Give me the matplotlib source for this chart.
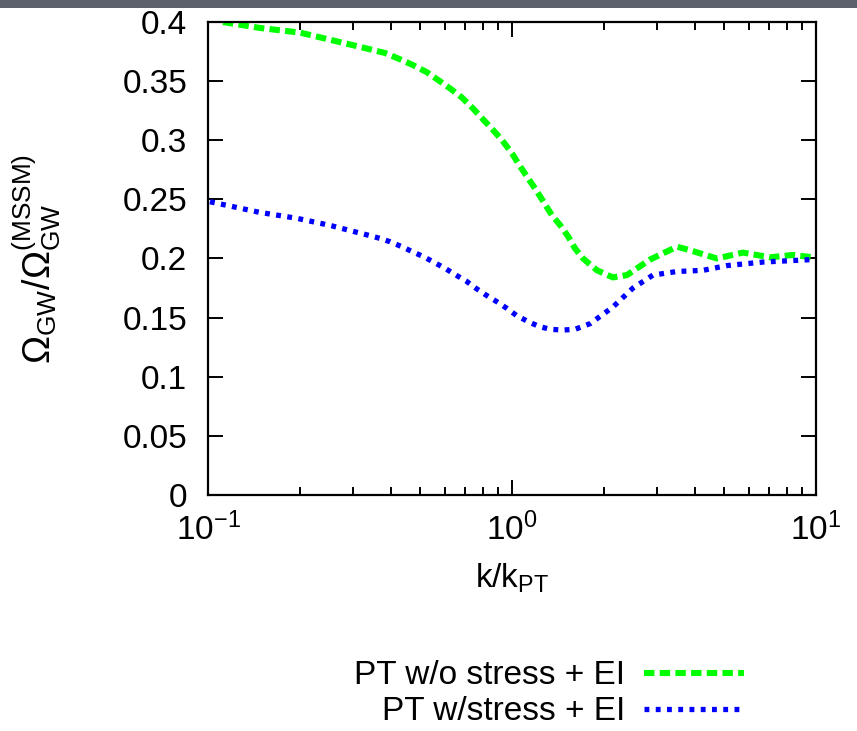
import matplotlib
matplotlib.use("Agg")
import matplotlib.pyplot as plt
from matplotlib.patches import Rectangle
from matplotlib.ticker import LogLocator, FixedLocator, LogFormatterMathtext

plt.rcParams['font.family'] = ['Liberation Sans', 'DejaVu Sans']
plt.rcParams['mathtext.fontset'] = 'custom'
plt.rcParams['mathtext.rm'] = 'Liberation Sans'
plt.rcParams['mathtext.it'] = 'Liberation Sans'
plt.rcParams['mathtext.bf'] = 'Liberation Sans'
plt.rcParams['lines.scale_dashes'] = False

# Spectra relative to the MSSM reference
k_nostress = [0.112, 0.148, 0.201, 0.316, 0.382, 0.428, 0.472, 0.525, 0.571, 0.625,
              0.685, 0.744, 0.803, 0.866, 0.927, 1.000, 1.062, 1.120, 1.190, 1.255,
              1.351, 1.439, 1.532, 1.611, 1.713, 1.904, 2.148, 2.39, 2.84, 3.49,
              3.85, 4.72, 5.75, 7.06, 8.40, 9.77, 10.0]
omega_nostress = [0.400, 0.395, 0.391, 0.379, 0.3738, 0.3685, 0.3636, 0.3575, 0.3510, 0.3439,
                  0.3360, 0.3269, 0.3177, 0.3087, 0.3002, 0.2889, 0.2782, 0.2692, 0.2593, 0.2500,
                  0.2368, 0.2283, 0.2184, 0.2086, 0.200, 0.190, 0.184, 0.186, 0.199, 0.210,
                  0.207, 0.200, 0.205, 0.201, 0.203, 0.201, 0.201]

k_stress = [0.1015, 0.148, 0.196, 0.252, 0.333, 0.368, 0.397, 0.434, 0.470, 0.511,
            0.554, 0.602, 0.654, 0.706, 0.761, 0.821, 0.891, 0.961, 1.036, 1.131,
            1.230, 1.341, 1.469, 1.611, 1.81, 2.148, 2.50, 2.91, 3.49, 4.25,
            5.09, 6.70, 9.55, 10.0]
omega_stress = [0.248, 0.239, 0.234, 0.228, 0.220, 0.2170, 0.2142, 0.2100, 0.2058, 0.2016,
                0.1968, 0.1917, 0.1860, 0.1810, 0.1748, 0.1691, 0.1635, 0.1579, 0.1517, 0.1466,
                0.1424, 0.1401, 0.1395, 0.1401, 0.145, 0.159, 0.175, 0.186, 0.189, 0.190,
                0.194, 0.197, 0.199, 0.200]

label_nostress = 'PT w/o stress + EI'
label_stress = 'PT w/stress + EI'
y_ticks = [0, 0.05, 0.1, 0.15, 0.2, 0.25, 0.3, 0.35, 0.4]
y_ticklabels = ['0', '0.05', '0.1', '0.15', '0.2', '0.25', '0.3', '0.35', '0.4']

W, H = 857, 731
fig = plt.figure(figsize=(W / 100, H / 100), dpi=100)
fig.patches.append(Rectangle((0, 1 - 8 / H), 1, 8 / H, transform=fig.transFigure,
                             facecolor='#5c616b', edgecolor='none', zorder=0))

ax = fig.add_axes([208 / W, 1 - 495 / H, (816 - 208) / W, (495 - 22) / H])

l1, = ax.plot(k_nostress, omega_nostress, color='#00ff00', lw=4.4,
              dashes=(7.5, 3.8), dash_capstyle='butt', label=label_nostress)
l2, = ax.plot(k_stress, omega_stress, color='#0000ff', lw=3.8,
              dashes=(3.5, 4.6), dash_capstyle='butt', label=label_stress)

ax.set_xscale('log')
ax.set_xlim(0.1, 10)
ax.set_ylim(0, 0.4)
ax.yaxis.set_major_locator(FixedLocator(y_ticks))
ax.set_yticklabels(y_ticklabels)
ax.xaxis.set_major_locator(LogLocator(base=10, numticks=10))
ax.xaxis.set_minor_locator(LogLocator(base=10, subs=range(2, 10), numticks=20))
ax.xaxis.set_major_formatter(LogFormatterMathtext())

for s in ax.spines.values():
    s.set_linewidth(1.6)
ax.tick_params(which='both', direction='in', top=True, right=True,
               labelsize=24, width=1.4, color='black')
ax.tick_params(which='major', length=11, pad=15)
ax.tick_params(which='minor', length=6)
ax.tick_params(axis='x', which='major', pad=13)

ax.set_xlabel(r'k/k$_{\mathrm{PT}}$', fontsize=24, labelpad=10)
ax.set_ylabel(r'$\mathrm{\Omega_{GW}/\Omega_{GW}^{(MSSM)}}$', fontsize=27)
ax.yaxis.set_label_coords(-0.238, 0.5)

fig.legend(handles=[l1, l2], loc='center right',
           bbox_to_anchor=(757 / W, 1 - 694 / H), frameon=False,
           markerfirst=False, fontsize=24, handlelength=3.0,
           handletextpad=0.55, labelspacing=0.15, borderaxespad=0)

fig.savefig('out.png', dpi=100)
